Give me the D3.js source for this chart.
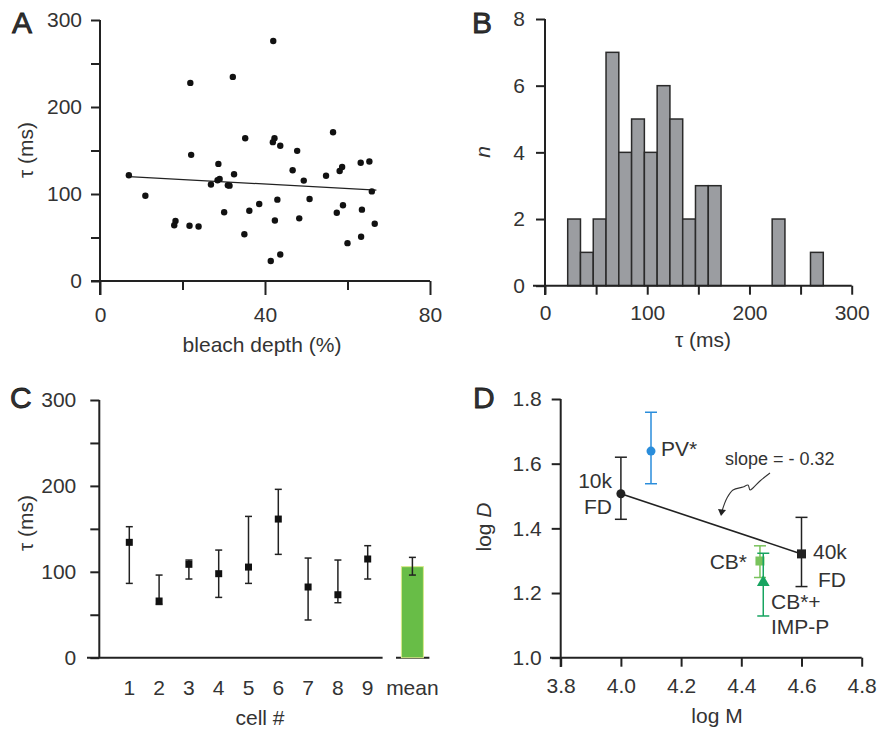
<!DOCTYPE html>
<html>
<head>
<meta charset="UTF-8">
<script src="https://d3js.org/d3.v7.min.js"></script>
<style>
  body { margin: 0; background: #fff; }
  svg { display: block; }
  text { font-family: "Liberation Sans", Arial, sans-serif; fill: #333; }
  .tick text { font-size: 21px; fill: #333; }
  .tick line { stroke: #222; stroke-width: 2px; }
  .axisline { stroke: #222; stroke-width: 2px; }
</style>
</head>
<body>
<svg width="878" height="732"></svg>
<script>
// ---- panel A: tau vs bleach depth ----
const depth = [7.0, 11.0, 18.3, 18.0, 21.7, 23.9, 21.9, 22.1, 26.9, 28.7, 28.5, 29.0, 30.1, 31.0, 31.4, 32.5,
  32.2, 35.0, 35.2, 36.2, 38.6, 41.4, 42.0, 41.9, 42.3, 42.4, 43.0, 43.7, 43.7, 46.7, 47.8, 48.3, 49.4,
  50.8, 54.8, 56.5, 57.4, 58.1, 58.7, 58.9, 60.0, 63.3, 63.5, 63.2, 65.3, 65.9, 66.6];
const tau = [121.5, 98, 69, 64, 63.5, 62.7, 227.7, 145, 111, 134.6, 115.8, 117.3, 79, 110, 109.6, 122.7,
  234.6, 53.8, 164, 80.8, 88.5, 23, 275.8, 159.6, 164, 69.6, 93.5, 155.4, 30.4, 127.3, 149.6, 72, 115.4,
  94.2, 121, 171, 78.5, 126.5, 131, 87, 43.5, 50.8, 82, 136, 137.3, 103, 65.8];
const fitX = [7, 67];
const fitY = [120, 104.5];

// ---- panel B: histogram of tau ----
const binStart = 22.2, binWidth = 12.5;
const counts = [2, 1, 2, 7, 4, 5, 4, 6, 5, 2, 3, 3, 0, 0, 0, 0, 2, 0, 0, 1];

// ---- panel C: tau per cell ----
const cells = [1, 2, 3, 4, 5, 6, 7, 8, 9];
const cellTau = [134.3, 66, 108.7, 97.8, 105.5, 161.4, 82.3, 73.3, 114.9];
const cellHi = [152.5, 96.2, 113.7, 125.3, 164.5, 196, 116, 113.7, 130.4];
const cellLo = [86.5, 62, 91.6, 70.2, 86.5, 120.3, 43.9, 64, 91.6];
const meanTau = 106, meanHi = 116.8, meanLo = 96.2;

// ---- panel D: log D vs log M ----
const dNames = ["10k FD", "40k FD", "PV*", "CB*", "CB*+IMP-P"];
const logM = [4.0, 4.6, 4.1, 4.462, 4.473];
const logD = [1.507, 1.321, 1.639, 1.299, 1.233];
const logDHi = [1.62, 1.434, 1.759, 1.346, 1.323];
const logDLo = [1.428, 1.22, 1.538, 1.248, 1.129];
const dColors = ["#222", "#222", "#2a8ddb", "#79c35c", "#17a460"];
const dShapes = ["circle", "square", "circle", "square", "triangle"];

const svg = d3.select("svg");

function panelLetter(t, x, y) {
  svg.append("text").attr("x", x).attr("y", y).attr("font-size", 30)
    .attr("fill", "#1a1a1a").attr("stroke", "#1a1a1a").attr("stroke-width", 0.8).text(t);
}
function line(g, x1, y1, x2, y2, cls) {
  g.append("line").attr("class", cls || "axisline")
    .attr("x1", x1).attr("y1", y1).attr("x2", x2).attr("y2", y2);
}
function yAxis(g, y, x0, ticks, fmt, pad) {
  const ax = g.append("g").attr("transform", `translate(${x0},0)`)
    .call(d3.axisLeft(y).tickValues(ticks).tickFormat(fmt).tickSize(9).tickPadding(pad));
  ax.select(".domain").remove();
  return ax;
}
function xAxis(g, x, y0, ticks, fmt, pad) {
  const ax = g.append("g").attr("transform", `translate(0,${y0})`)
    .call(d3.axisBottom(x).tickValues(ticks).tickFormat(fmt).tickSize(9).tickPadding(pad));
  ax.select(".domain").remove();
  return ax;
}
function errBar(g, x, yHi, yLo, cap, color) {
  g.append("line").attr("x1", x).attr("x2", x).attr("y1", yHi).attr("y2", yLo)
    .attr("stroke", color).attr("stroke-width", 1.5);
  [yHi, yLo].forEach(v => g.append("line").attr("x1", x - cap).attr("x2", x + cap)
    .attr("y1", v).attr("y2", v).attr("stroke", color).attr("stroke-width", 1.5));
}

// ================= A =================
{
  const g = svg.append("g");
  const x = d3.scaleLinear().domain([0, 80]).range([100, 430]);
  const y = d3.scaleLinear().domain([0, 300]).range([281, 20]);
  yAxis(g, y, 100, d3.range(0, 301, 50), d => d % 100 === 0 ? d : "", 9);
  const xa = xAxis(g, x, 281, d3.range(0, 81, 20), d => d % 40 === 0 ? d : "", 17);
  xa.selectAll(".tick line").attr("y2", d => d % 40 === 0 ? 14 : 9);
  line(g, 100, y(300), 100, 295);
  line(g, 91, 281, 430, 281);

  g.append("line").attr("x1", x(fitX[0])).attr("y1", y(fitY[0]))
    .attr("x2", x(fitX[1])).attr("y2", y(fitY[1])).attr("stroke", "#222").attr("stroke-width", 1.3);
  g.selectAll("circle.pt").data(depth).enter().append("circle")
    .attr("cx", d => x(d)).attr("cy", (d, i) => y(tau[i])).attr("r", 3.2).attr("fill", "#111");

  g.append("text").attr("transform", "translate(33,150) rotate(-90)").attr("text-anchor", "middle")
    .attr("font-size", 21).text("τ (ms)");
  g.append("text").attr("x", 262).attr("y", 352).attr("text-anchor", "middle")
    .attr("font-size", 21).text("bleach depth (%)");
  panelLetter("A", 12, 33);
}

// ================= B =================
{
  const g = svg.append("g");
  const x = d3.scaleLinear().domain([0, 300]).range([545, 851.7]);
  const y = d3.scaleLinear().domain([0, 8]).range([285.7, 19]);
  yAxis(g, y, 545, [0, 2, 4, 6, 8], d => d, 11);
  xAxis(g, x, 285.7, d3.range(0, 301, 50), d => d % 100 === 0 ? d : "", 10);

  g.selectAll("rect.bar").data(counts.map((c, i) => ({ c, i })).filter(d => d.c > 0)).enter()
    .append("rect")
    .attr("x", d => x(binStart + d.i * binWidth))
    .attr("width", d => x(binStart + (d.i + 1) * binWidth) - x(binStart + d.i * binWidth))
    .attr("y", d => y(d.c)).attr("height", d => y(0) - y(d.c))
    .attr("fill", "#9b9da1").attr("stroke", "#2a2a2a").attr("stroke-width", 1.5);

  line(g, 545, y(8), 545, 295);
  line(g, 533, 285.7, 851.7, 285.7);

  g.append("text").attr("transform", "translate(490,152) rotate(-90)").attr("text-anchor", "middle")
    .attr("font-size", 21).attr("font-style", "italic").text("n");
  g.append("text").attr("x", 703).attr("y", 347).attr("text-anchor", "middle")
    .attr("font-size", 21).text("τ (ms)");
  panelLetter("B", 472, 33);
}

// ================= C =================
{
  const g = svg.append("g");
  const x = d3.scaleLinear().domain([1, 9]).range([129.3, 367.7]);
  const y = d3.scaleLinear().domain([0, 300]).range([657.7, 400]);
  yAxis(g, y, 99.3, d3.range(0, 301, 50), d => d % 100 === 0 ? d : "", 14);
  line(g, 99.3, y(300), 99.3, 657.7);
  line(g, 87, 657.7, x(9.5), 657.7);
  line(g, x(9.95), 657.7, x(11.07), 657.7);

  // mean bar
  g.append("rect").attr("x", x(10.5) - 11).attr("width", 22)
    .attr("y", y(meanTau)).attr("height", y(0) - y(meanTau))
    .attr("fill", "#68bd47").attr("stroke", "#d9ea8a").attr("stroke-width", 1);
  errBar(g, x(10.5), y(meanHi), y(meanLo), 3.5, "#222");

  cells.forEach((c, i) => {
    errBar(g, x(c), y(cellHi[i]), y(cellLo[i]), 3.5, "#222");
    g.append("rect").attr("x", x(c) - 3.5).attr("y", y(cellTau[i]) - 3.5)
      .attr("width", 7).attr("height", 7).attr("fill", "#111");
  });

  const labels = cells.map(String).concat(["mean"]);
  const pos = cells.concat([10.5]);
  g.selectAll("text.cl").data(labels).enter().append("text")
    .attr("x", (d, i) => x(pos[i])).attr("y", 695).attr("text-anchor", "middle")
    .attr("font-size", 21).text(d => d);

  g.append("text").attr("transform", "translate(33,523) rotate(-90)").attr("text-anchor", "middle")
    .attr("font-size", 21).text("τ (ms)");
  g.append("text").attr("x", 260).attr("y", 725).attr("text-anchor", "middle")
    .attr("font-size", 21).text("cell #");
  panelLetter("C", 10, 408);
}

// ================= D =================
{
  const g = svg.append("g");
  const x = d3.scaleLinear().domain([3.8, 4.8]).range([560.7, 861.7]);
  const y = d3.scaleLinear().domain([1.0, 1.8]).range([657.7, 399]);
  yAxis(g, y, 560.7, [1.0, 1.2, 1.4, 1.6, 1.8], d3.format(".1f"), 10);
  xAxis(g, x, 657.7, [3.8, 4.0, 4.2, 4.4, 4.6, 4.8], d3.format(".1f"), 11);
  line(g, 560.7, y(1.8), 560.7, 667);
  line(g, 550, 657.7, 861.7, 657.7);

  // fit line between 10k and 40k FD
  g.append("line").attr("x1", x(logM[0])).attr("y1", y(logD[0]))
    .attr("x2", x(logM[1])).attr("y2", y(logD[1])).attr("stroke", "#222").attr("stroke-width", 1.6);

  dNames.forEach((n, i) => {
    const cx = x(logM[i]), cy = y(logD[i]);
    errBar(g, cx, y(logDHi[i]), y(logDLo[i]), 6, dColors[i]);
    if (dShapes[i] === "circle") {
      g.append("circle").attr("cx", cx).attr("cy", cy).attr("r", 4.5).attr("fill", dColors[i]);
    } else if (dShapes[i] === "square") {
      g.append("rect").attr("x", cx - 4.5).attr("y", cy - 4.5).attr("width", 9).attr("height", 9)
        .attr("fill", dColors[i]);
    } else {
      g.append("path").attr("d", d3.symbol(d3.symbolTriangle, 70)())
        .attr("transform", `translate(${cx},${cy})`).attr("fill", dColors[i]);
    }
  });

  const lab = (t, xx, yy, col, anchor) => g.append("text").attr("x", xx).attr("y", yy)
    .attr("font-size", 21).attr("fill", col).attr("text-anchor", anchor || "start").text(t);
  lab("10k", 612, 488, "#2a2a2a", "end");
  lab("FD", 612, 514, "#2a2a2a", "end");
  lab("40k", 813, 559, "#2a2a2a");
  lab("FD", 818, 587, "#2a2a2a");
  lab("PV*", 661, 456, dColors[2]);
  lab("CB*", 747, 569, dColors[3], "end");
  lab("CB*+", 771, 609, dColors[4]);
  lab("IMP-P", 771, 634, dColors[4]);

  g.append("text").attr("x", 725).attr("y", 465).attr("font-size", 18).attr("fill", "#333")
    .text("slope = - 0.32");
  const arrowPts = [[770, 473], [760, 481], [753, 488], [750, 490], [748, 485], [743, 487],
    [733, 490], [727, 498], [722, 511]];
  g.append("path").attr("d", d3.line().curve(d3.curveCatmullRom)(arrowPts))
    .attr("fill", "none").attr("stroke", "#333").attr("stroke-width", 1.1);
  g.append("path").attr("d", "M718,509 L726,510 L721,516 Z").attr("fill", "#222");

  g.append("text").attr("transform", "translate(491,527) rotate(-90)").attr("text-anchor", "middle")
    .attr("font-size", 21).html('log <tspan font-style="italic">D</tspan>');
  g.append("text").attr("x", 717).attr("y", 723).attr("text-anchor", "middle")
    .attr("font-size", 21).text("log M");
  panelLetter("D", 473, 408);
}
</script>
</body>
</html>
